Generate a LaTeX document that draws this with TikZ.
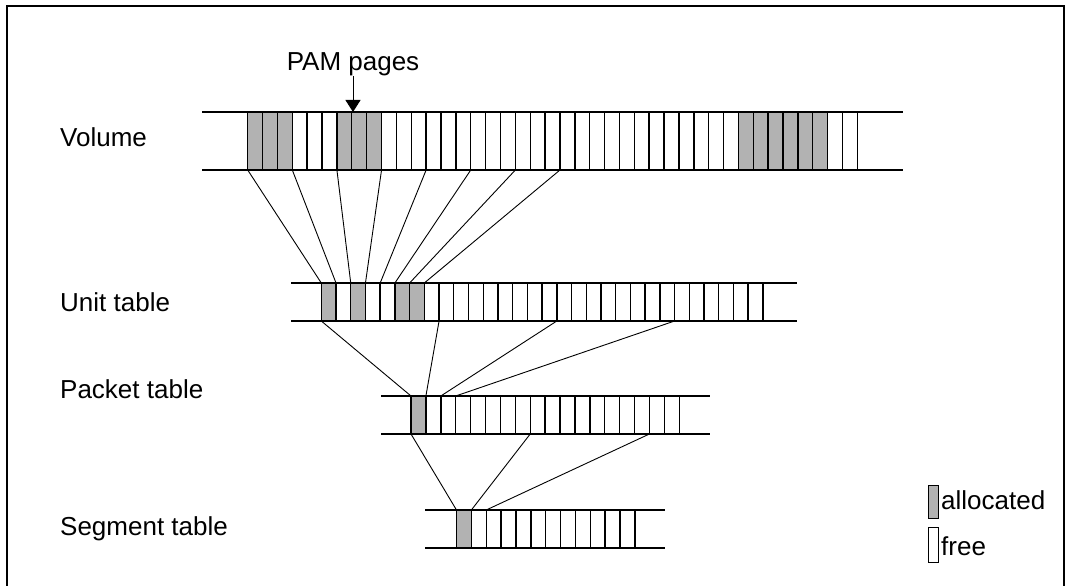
\documentclass[tikz,border=0pt]{standalone}
\usepackage{fontspec}
\setmainfont{Liberation Sans}
\usetikzlibrary{arrows.meta}
\definecolor{alloc}{gray}{0.7}
\begin{document}
\begin{tikzpicture}[x=1pt, y=-1pt, >={Triangle[width=15pt,length=12pt]},
  band/.style={line width=1.4pt},
  link/.style={line width=0.9pt},
  lbl/.style={anchor=west, inner sep=0pt, font=\fontsize{26}{31}\selectfont}]
  \useasboundingbox (0,0) rectangle (1069,586);

  % Frame (open at the bottom)
  \draw[line width=1.5pt] (7,586) -- (7,6) -- (1064,6) -- (1064,586);

  % Volume
  \foreach \i in {0,1,2,6,7,8,33,34,35,36,37,38}
    \fill[alloc] (247.7+\i*14.87,112) rectangle ++(14.87,58);
  \draw[band] (202,112) -- (903,112) (202,170) -- (903,170);
  \foreach \i in {0,...,41}
    \draw[band] (247.7+\i*14.87,112) coordinate (vt\i) -- (247.7+\i*14.87,170) coordinate (vb\i);
  \node[lbl] (vollabel) at (60,137) {Volume};

  % PAM pages
  \node[lbl, anchor=center] (pam) at (353,64) {PAM pages};
  \coordinate (pamtip) at (353,112);
  \draw[->, line width=1pt] (pam.south) -- (pamtip);

  % Unit table
  \foreach \i in {0,2,5,6}
    \fill[alloc] (321.3+\i*14.72,283) rectangle ++(14.72,38);
  \draw[band] (291,283) -- (797,283) (291,321) -- (797,321);
  \foreach \i in {0,...,30}
    \draw[band] (321.3+\i*14.72,283) coordinate (ut\i) -- (321.3+\i*14.72,321) coordinate (ub\i);
  \node[lbl] (unitlabel) at (60,302) {Unit table};

  % Packet table
  \fill[alloc] (411,396) rectangle ++(14.9,38);
  \draw[band] (381,396) -- (710,396) (381,434) -- (710,434);
  \foreach \i in {0,...,18}
    \draw[band] (411+\i*14.9,396) coordinate (pt\i) -- (411+\i*14.9,434) coordinate (pb\i);
  \node[lbl] (packetlabel) at (60,389) {Packet table};

  % Segment table
  \fill[alloc] (456.5,510) rectangle ++(14.86,38);
  \draw[band] (425,510) -- (665,510) (425,548) -- (665,548);
  \foreach \i in {0,...,12}
    \draw[band] (456.5+\i*14.86,510) coordinate (st\i) -- (456.5+\i*14.86,548) coordinate (sb\i);
  \node[lbl] (segmentlabel) at (60,529) {Segment table};

  % Links between the tables
  \foreach \k in {0,...,7} {
    \pgfmathtruncatemacro\j{3*\k}
    \draw[link] (vb\j) -- (ut\k);
  }
  \foreach \k in {0,...,3} {
    \pgfmathtruncatemacro\j{8*\k}
    \draw[link] (ub\j) -- (pt\k);
  }
  \foreach \k in {0,...,2} {
    \pgfmathtruncatemacro\j{8*\k}
    \draw[link] (pb\j) -- (st\k);
  }

  % Legend
  \node[draw, fill=alloc, line width=1pt, minimum width=10pt, minimum height=33pt, inner sep=0pt] (allockey) at (933,502) {};
  \node[lbl] (alloctext) at (941,500) {allocated};
  \node[draw, line width=1pt, minimum width=10pt, minimum height=35pt, inner sep=0pt] (freekey) at (933,545) {};
  \node[lbl] (freetext) at (941,546) {free};
\end{tikzpicture}
\end{document}
